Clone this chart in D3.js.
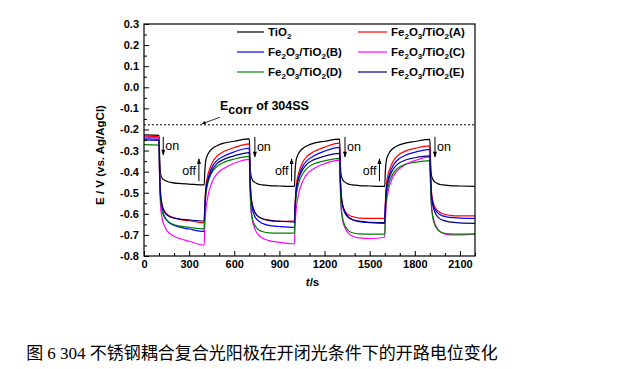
<!DOCTYPE html>
<html><head><meta charset="utf-8">
<script src="https://cdn.jsdelivr.net/npm/d3@7"></script>
<style>body{margin:0;background:#fff}svg{display:block}</style>
</head><body><svg id="c" width="625" height="369"></svg>
<script>
// ---------- data ----------
const times = [0, 100,
 104,110,120,135,155,185,230,300,400,
 404,410,420,435,455,485,530,600,700,
 704,710,720,735,755,785,830,900,1000,
 1004,1010,1020,1035,1055,1085,1130,1200,1300,
 1304,1310,1320,1335,1355,1385,1430,1500,1600,
 1604,1610,1620,1635,1655,1685,1730,1800,1900,
 1904,1910,1920,1935,1955,1985,2030,2100,2200];

const tio2 = [-0.226,-0.228,
 -0.33,-0.41,-0.43,-0.44,-0.447,-0.452,-0.456,-0.459,-0.463,
 -0.40,-0.35,-0.325,-0.305,-0.29,-0.277,-0.265,-0.256,-0.245,
 -0.34,-0.415,-0.437,-0.45,-0.458,-0.463,-0.466,-0.468,-0.470,
 -0.40,-0.35,-0.325,-0.305,-0.29,-0.277,-0.265,-0.256,-0.246,
 -0.34,-0.415,-0.437,-0.45,-0.458,-0.463,-0.466,-0.468,-0.470,
 -0.40,-0.35,-0.325,-0.305,-0.29,-0.277,-0.266,-0.257,-0.247,
 -0.34,-0.415,-0.437,-0.45,-0.458,-0.463,-0.466,-0.468,-0.470];

const sampleA = [-0.232,-0.235,
 -0.40,-0.50,-0.555,-0.585,-0.603,-0.615,-0.625,-0.633,-0.642,
 -0.56,-0.48,-0.43,-0.39,-0.355,-0.327,-0.305,-0.286,-0.268,
 -0.40,-0.50,-0.555,-0.59,-0.61,-0.623,-0.632,-0.636,-0.633,
 -0.56,-0.48,-0.43,-0.39,-0.355,-0.327,-0.305,-0.284,-0.265,
 -0.40,-0.50,-0.555,-0.585,-0.603,-0.613,-0.62,-0.622,-0.622,
 -0.55,-0.47,-0.42,-0.385,-0.352,-0.325,-0.305,-0.29,-0.278,
 -0.40,-0.49,-0.54,-0.57,-0.588,-0.60,-0.607,-0.61,-0.61];

const sampleB = [-0.245,-0.246,
 -0.42,-0.52,-0.575,-0.61,-0.633,-0.65,-0.662,-0.672,-0.683,
 -0.58,-0.50,-0.45,-0.41,-0.375,-0.348,-0.327,-0.306,-0.289,
 -0.42,-0.52,-0.575,-0.61,-0.63,-0.645,-0.655,-0.66,-0.664,
 -0.58,-0.50,-0.45,-0.41,-0.375,-0.347,-0.325,-0.303,-0.285,
 -0.41,-0.51,-0.56,-0.595,-0.615,-0.628,-0.637,-0.642,-0.645,
 -0.57,-0.49,-0.445,-0.405,-0.372,-0.345,-0.325,-0.308,-0.294,
 -0.40,-0.50,-0.55,-0.58,-0.598,-0.61,-0.617,-0.62,-0.622];

const sampleC = [-0.236,-0.24,
 -0.45,-0.56,-0.62,-0.656,-0.682,-0.70,-0.716,-0.73,-0.748,
 -0.66,-0.59,-0.535,-0.485,-0.445,-0.41,-0.385,-0.36,-0.342,
 -0.45,-0.57,-0.63,-0.668,-0.695,-0.714,-0.727,-0.735,-0.742,
 -0.66,-0.59,-0.535,-0.485,-0.445,-0.41,-0.385,-0.362,-0.345,
 -0.45,-0.57,-0.63,-0.665,-0.69,-0.705,-0.714,-0.717,-0.711,
 -0.63,-0.56,-0.505,-0.46,-0.425,-0.395,-0.37,-0.348,-0.330,
 -0.44,-0.55,-0.61,-0.648,-0.675,-0.692,-0.70,-0.70,-0.695];

const sampleD = [-0.272,-0.274,
 -0.43,-0.53,-0.585,-0.615,-0.633,-0.647,-0.657,-0.664,-0.672,
 -0.60,-0.52,-0.47,-0.43,-0.40,-0.375,-0.356,-0.34,-0.328,
 -0.45,-0.56,-0.62,-0.652,-0.672,-0.684,-0.69,-0.692,-0.692,
 -0.61,-0.53,-0.48,-0.44,-0.41,-0.383,-0.363,-0.349,-0.337,
 -0.45,-0.56,-0.62,-0.655,-0.677,-0.69,-0.695,-0.696,-0.696,
 -0.61,-0.53,-0.48,-0.44,-0.41,-0.385,-0.367,-0.356,-0.348,
 -0.45,-0.56,-0.62,-0.655,-0.677,-0.69,-0.695,-0.696,-0.696];

const sampleE = [-0.25,-0.252,
 -0.41,-0.51,-0.56,-0.59,-0.607,-0.617,-0.624,-0.629,-0.634,
 -0.57,-0.50,-0.455,-0.42,-0.39,-0.362,-0.342,-0.325,-0.31,
 -0.41,-0.51,-0.56,-0.59,-0.61,-0.622,-0.63,-0.635,-0.639,
 -0.57,-0.50,-0.455,-0.42,-0.39,-0.363,-0.343,-0.327,-0.313,
 -0.41,-0.51,-0.56,-0.593,-0.613,-0.627,-0.635,-0.64,-0.642,
 -0.57,-0.50,-0.455,-0.42,-0.39,-0.365,-0.347,-0.334,-0.325,
 -0.41,-0.51,-0.56,-0.595,-0.617,-0.63,-0.638,-0.643,-0.645];

const seriesNames = ["TiO2","A","B","C","D","E"];
const seriesColors = ["#000000","#ff0000","#0000ff","#ff00ff","#008000","#000080"];
const seriesValues = [tio2, sampleA, sampleB, sampleC, sampleD, sampleE];

const xTicks = [0,300,600,900,1200,1500,1800,2100];
const xTickLabels = ["0","300","600","900","1200","1500","1800","2100"];
const xMinor = [100,200,400,500,700,800,1000,1100,1300,1400,1600,1700,1900,2000,2200];
const yTicks = [0.3,0.2,0.1,0.0,-0.1,-0.2,-0.3,-0.4,-0.5,-0.6,-0.7,-0.8];
const yTickLabels = ["0.3","0.2","0.1","0.0","-0.1","-0.2","-0.3","-0.4","-0.5","-0.6","-0.7","-0.8"];
const yMinor = [0.25,0.15,0.05,-0.05,-0.15,-0.25,-0.35,-0.45,-0.55,-0.65,-0.75];

const ecorr = -0.178;
const onTimes = [128, 737, 1336, 1934];
const offTimes = [365, 981, 1565];

// ---------- layout ----------
const svg = d3.select("#c");
const L = 144, R = 475, T = 24, B = 256;
const x = d3.scaleLinear().domain([0,2200]).range([L,R]);
const y = d3.scaleLinear().domain([-0.8,0.3]).range([B,T]);
const font = "'Liberation Sans', Arial, sans-serif";

// curves
const line = d3.line().x(d=>x(d[0])).y(d=>y(d[1])).curve(d3.curveMonotoneX);
const plot = svg.append("g");
seriesValues.forEach((vals,i)=>{
  plot.append("path")
    .attr("d", line(times.map((t,k)=>[t, vals[k]])))
    .attr("fill","none").attr("stroke",seriesColors[i]).attr("stroke-width",1.2);
});

// Ecorr dashed line
svg.append("line").attr("x1",x(0)).attr("x2",x(2200)).attr("y1",y(ecorr)).attr("y2",y(ecorr))
  .attr("stroke","#000").attr("stroke-width",1).attr("stroke-dasharray","2,2");

// axes
svg.append("g").attr("transform",`translate(${L},0)`)
  .call(d3.axisLeft(y).tickValues(yTicks).tickSize(-5).tickPadding(5)
    .tickFormat((d,i)=>yTickLabels[i]));
svg.append("g").attr("transform",`translate(${L},0)`)
  .call(d3.axisLeft(y).tickValues(yMinor).tickSize(-3).tickFormat(""));
const gx = svg.append("g").attr("transform",`translate(0,${B})`)
  .call(d3.axisBottom(x).tickValues(xTicks).tickSize(-5).tickPadding(4)
    .tickFormat((d,i)=>xTickLabels[i]));
svg.append("g").attr("transform",`translate(0,${B})`)
  .call(d3.axisBottom(x).tickValues(xMinor).tickSize(-3).tickFormat(""));
svg.selectAll(".domain").remove();
svg.selectAll(".tick line").attr("stroke","#000").attr("stroke-width",1);
svg.selectAll(".tick text").attr("font-family",font).attr("font-weight","bold")
  .attr("font-size","11px").attr("fill","#000");
gx.selectAll(".tick text").attr("dy","0.75em");

// frame
svg.append("rect").attr("x",L).attr("y",T).attr("width",R-L).attr("height",B-T)
  .attr("fill","none").attr("stroke","#000").attr("stroke-width",1.2);

// axis titles
const xt = svg.append("text").attr("x",(L+R)/2+3).attr("y",286).attr("text-anchor","middle")
  .attr("font-family",font).attr("font-weight","bold").attr("font-size","11.5px");
xt.append("tspan").attr("font-style","italic").text("t");
xt.append("tspan").text("/s");
svg.append("text").attr("transform","translate(104,155) rotate(-90)").attr("text-anchor","middle")
  .attr("font-family",font).attr("font-weight","bold").attr("font-size","11.5px")
  .text("E / V (vs. Ag/AgCl)");

// legend
function subText(sel, parts){
  parts.forEach(p=>{
    if(p.sub){ sel.append("tspan").attr("font-size","8px").attr("dy",3).text(p.t); }
    else { sel.append("tspan").attr("dy", p.back?-3:0).text(p.t); }
  });
}
function fe(letter){
  return [{t:"Fe"},{t:"2",sub:1},{t:"O",back:1},{t:"3",sub:1},{t:"/TiO",back:1},{t:"2",sub:1},{t:"("+letter+")",back:1}];
}
const legendParts = [[{t:"TiO"},{t:"2",sub:1}], fe("A"), fe("B"), fe("C"), fe("D"), fe("E")];
legendParts.forEach((parts,i)=>{
  const col = i%2, row = Math.floor(i/2);
  const lx = col? 358 : 237, lw = col? 29 : 27, ly = 32 + row*20;
  svg.append("line").attr("x1",lx).attr("x2",lx+lw).attr("y1",ly).attr("y2",ly)
    .attr("stroke",seriesColors[i]).attr("stroke-width",1.2);
  const t = svg.append("text").attr("x",lx+lw+4).attr("y",ly+4)
    .attr("font-family",font).attr("font-weight","bold").attr("font-size","11.5px");
  subText(t, parts);
});

// Ecorr label and arrow
const el = svg.append("text").attr("x",220).attr("y",110)
  .attr("font-family",font).attr("font-weight","bold").attr("font-size","12.5px");
el.append("tspan").text("E");
el.append("tspan").attr("dy",4).text("corr");
el.append("tspan").attr("dy",-4).text(" of 304SS");
const ax1 = x(505), ay1 = y(-0.142), ax2 = x(385), ay2 = y(ecorr)-1;
svg.append("line").attr("x1",ax1).attr("y1",ay1).attr("x2",ax2).attr("y2",ay2)
  .attr("stroke","#000").attr("stroke-width",0.8);
{
  const ang = Math.atan2(ay2-ay1, ax2-ax1), s=4;
  const p = [[ax2,ay2],[ax2 - s*Math.cos(ang-0.4), ay2 - s*Math.sin(ang-0.4)],[ax2 - s*Math.cos(ang+0.4), ay2 - s*Math.sin(ang+0.4)]];
  svg.append("path").attr("d","M"+p.map(q=>q.join(",")).join("L")+"Z").attr("fill","#000");
}

// on/off annotations
function vArrow(xp, y1, y2){ // arrow from y1 to y2 with head at y2
  svg.append("line").attr("x1",xp).attr("x2",xp).attr("y1",y1).attr("y2",y2)
    .attr("stroke","#000").attr("stroke-width",1);
  const d = y2>y1 ? 1 : -1;
  svg.append("path").attr("d",`M${xp},${y2+d*1}L${xp-2},${y2-d*5}L${xp+2},${y2-d*5}Z`).attr("fill","#000");
}
onTimes.forEach((t,i)=>{
  const xp = x(t);
  vArrow(xp, y(-0.235), y(i===0?-0.32:-0.33));
  svg.append("text").attr("x",xp+2).attr("y",y(-0.28)+ (i===0?4:5))
    .attr("font-family",font).attr("font-size","12.5px").text("on");
});
offTimes.forEach((t,i)=>{
  const xp = x(t);
  vArrow(xp, y(-0.445), y(-0.34));
  svg.append("text").attr("x",xp-3).attr("y",y(-0.395)+4).attr("text-anchor","end")
    .attr("font-family",font).attr("font-size","12.5px").text("off");
});

// caption
svg.append("text").attr("x",262).attr("y",359).attr("text-anchor","middle")
  .attr("font-family","'Liberation Serif','Noto Sans CJK SC',serif").attr("font-size","17px")
  .text("图 6 304 不锈钢耦合复合光阳极在开闭光条件下的开路电位变化");
</script></body></html>
